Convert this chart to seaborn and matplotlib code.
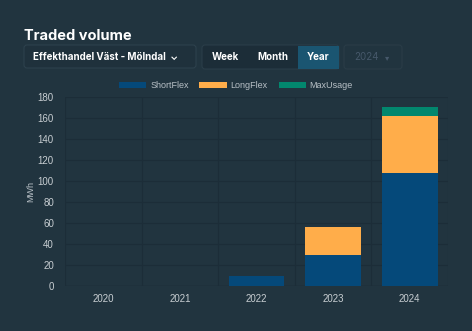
import matplotlib
matplotlib.use("Agg")
import matplotlib.pyplot as plt
from matplotlib.patches import FancyBboxPatch, Rectangle
import seaborn as sns
import pandas as pd

years = ["2020", "2021", "2022", "2023", "2024"]
short_flex = [0, 0, 9.5, 29.5, 108]
long_flex = [0, 0, 0, 27, 54]
max_usage = [0, 0, 0, 0, 9]
series = ["ShortFlex", "LongFlex", "MaxUsage"]
colors = ["#05497A", "#FFAD4A", "#02876E"]
y_ticks = [0, 20, 40, 60, 80, 100, 120, 140, 160, 180]

BG = "#21343F"
GRID = "#1C2D38"
W, H = 472, 331

sns.set_theme(style="dark")
plt.rcParams["font.family"] = ["Liberation Sans", "DejaVu Sans"]

fig = plt.figure(figsize=(W / 100, H / 100), dpi=100)
fig.patch.set_facecolor(BG)

def fx(x):
    return x / W

def fy(y):
    return 1 - y / H

ax = fig.add_axes([fx(65), fy(286), fx(448) - fx(65), fy(97.3) - fy(286)])
ax.set_facecolor(BG)

df = pd.DataFrame({"year": years, "ShortFlex": short_flex,
                   "LongFlex": long_flex, "MaxUsage": max_usage})
bottom = [0] * len(years)
for name, col in zip(series, colors):
    sns.barplot(data=df, x="year", y=name, color=col, bottom=bottom,
                width=0.73, ax=ax, saturation=1, label=name,
                linewidth=0)
    bottom = [b + v for b, v in zip(bottom, df[name])]

handles, labels = ax.get_legend_handles_labels()
if ax.get_legend() is not None:
    ax.get_legend().remove()

ax.set_ylim(0, 180)
ax.set_xlim(-0.5, 4.5)
ax.set_yticks(y_ticks)
ax.set_xlabel("")
ax.set_ylabel("MWh", color="#B8C0C6", fontsize=6.5, labelpad=2)
ax.tick_params(axis="both", colors="#C8CED2", labelsize=7, length=0, pad=8)
ax.set_xticks(range(len(years)))
ax.set_xticks([i - 0.5 for i in range(len(years) + 1)], minor=True)
ax.tick_params(axis="x", which="minor", length=4, color=GRID, width=0.8)
ax.tick_params(axis="x", which="major", pad=6)
ax.grid(True, axis="y", which="major", color=GRID, linewidth=0.8)
ax.grid(True, axis="x", which="minor", color=GRID, linewidth=0.8)
ax.grid(False, axis="x", which="major")
ax.set_axisbelow(True)
for s in ax.spines.values():
    s.set_visible(False)
ax.axhline(0, color="#1A2A34", linewidth=0.9, zorder=0.5)

fig.legend(handles[:3], labels[:3], loc="center",
           bbox_to_anchor=(0.5, fy(85.5)), ncol=3, frameon=False,
           fontsize=6.5, handlelength=3.0, handleheight=0.75,
           columnspacing=1.2, handletextpad=0.45, labelcolor="#B8C0C6",
           borderaxespad=0)

# Title
fig.text(fx(24), fy(40.5), "Traded volume", color="white", fontsize=10.5,
         fontweight="bold", family=["Inter", "DejaVu Sans"], va="baseline")

def box(x0, y0, x1, y1, fc, ec, lw=0.8, r=3):
    p = FancyBboxPatch((fx(x0), fy(y1)), fx(x1) - fx(x0), fy(y0) - fy(y1),
                       boxstyle=f"round,pad=0,rounding_size={r / W}",
                       transform=fig.transFigure, facecolor=fc, edgecolor=ec,
                       linewidth=lw, mutation_aspect=W / H)
    fig.patches.append(p)

# site dropdown
box(24, 45, 196, 68, "#1F313C", "#2D414D")
fig.text(fx(33), fy(57), "Effekthandel Väst - Mölndal  \u2304", color="white",
         fontsize=7, fontweight="bold", family=["Inter", "DejaVu Sans"],
         va="center")

# segmented control
box(202, 45, 339, 69, "#1C2D38", "#2A3D49")
fig.patches.append(Rectangle((fx(298), fy(68.5)), fx(339) - fx(298),
                             fy(45.5) - fy(68.5), transform=fig.transFigure,
                             facecolor="#1A5571", edgecolor="none"))
for lbl, cx in [("Week", 225), ("Month", 273), ("Year", 318)]:
    fig.text(fx(cx), fy(57), lbl, color="white", fontsize=7,
             fontweight="bold", family=["Inter", "DejaVu Sans"],
             ha="center", va="center")

# disabled year dropdown
box(344, 45, 402, 69, "#21343F", "#2A3C47")
fig.text(fx(354), fy(57.5), "2024", color="#46586A", fontsize=7,
         family=["Inter", "DejaVu Sans"], va="center")
fig.text(fx(385), fy(57.5), "\u25BE", color="#46586A", fontsize=6,
         family=["DejaVu Sans"], va="center")

fig.savefig("out.png", dpi=100, facecolor=BG)
